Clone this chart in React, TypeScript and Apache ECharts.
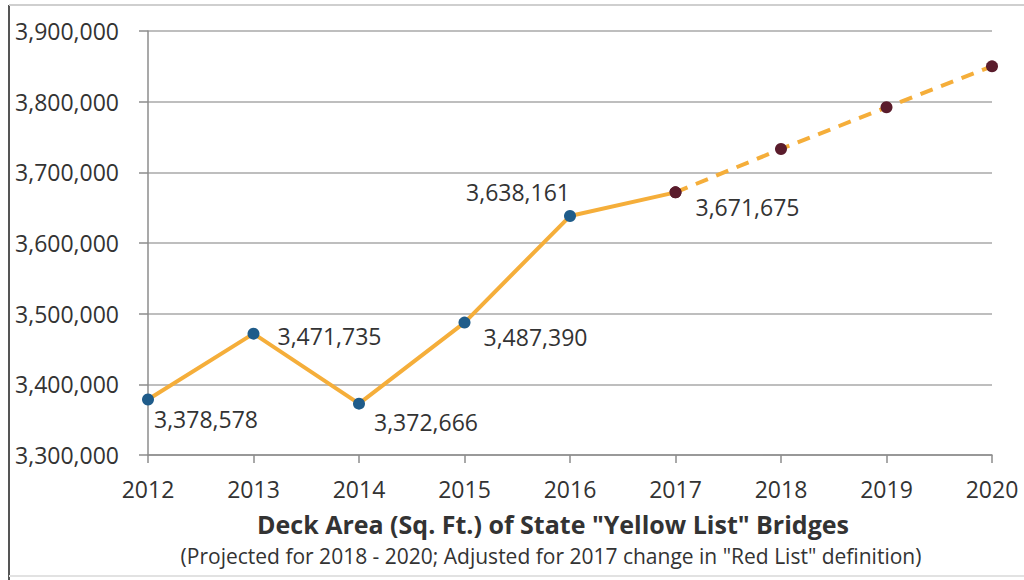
import React, { useEffect, useRef } from "react";
import * as echarts from "echarts";

const years = ["2012", "2013", "2014", "2015", "2016", "2017", "2018", "2019", "2020"];
const actualValues = [3378578, 3471735, 3372666, 3487390, 3638161, 3671675];
const projectedValues = [3671675, 3733000, 3792000, 3850000];
const labeledValues = [3378578, 3471735, 3372666, 3487390, 3638161, 3671675];
const titleText = 'Deck Area (Sq. Ft.) of State "Yellow List" Bridges';
const subtitleText = '(Projected for 2018 - 2020; Adjusted for 2017 change in "Red List" definition)';

const FONT = "'Open Sans', 'Noto Sans', sans-serif";
const TEXT = "#333333";
const ORANGE = "#F5AE3A";
const BLUE = "#1F5C8A";
const MAROON = "#5A1C2C";

// label placement per labeled point (style, not data)
const labelPlace: any[] = [
  { position: "right", offset: [0, 20] },
  { position: "right", offset: [18, 2] },
  { position: "right", offset: [9, 18] },
  { position: "right", offset: [13, 14] },
  { position: "left", offset: [6, -24] },
  { position: "right", offset: [14, 15] },
];

const fmt = (v: number) => v.toLocaleString("en-US");

export default function App() {
  const ref = useRef<HTMLDivElement>(null);
  useEffect(() => {
    if (!ref.current) return;
    const chart = echarts.init(ref.current, null, { renderer: "svg" });
    const nActual = actualValues.length;
    const solidData: any[] = years.map((_, i) => {
      if (i >= nActual) return "-";
      const isLast = i === nActual - 1;
      return {
        value: actualValues[i],
        itemStyle: { color: isLast ? MAROON : BLUE },
        label: {
          show: labeledValues[i] !== undefined,
          position: labelPlace[i].position,
          offset: labelPlace[i].offset,
          distance: 0,
          formatter: () => fmt(labeledValues[i]),
        },
      };
    });
    const startIdx = nActual - 1;
    const dashData: any[] = years.map((_, i) => {
      if (i < startIdx) return "-";
      return { value: projectedValues[i - startIdx], itemStyle: { color: MAROON } };
    });

    chart.setOption({
      animation: false,
      backgroundColor: "#fff",
      grid: { left: 148, right: 32, top: 31, bottom: 125 },
      xAxis: {
        type: "category",
        data: years,
        boundaryGap: false,
        axisLine: { show: true, lineStyle: { color: "#8c8c8c", width: 1.5 } },
        axisTick: { show: true, alignWithLabel: true, length: 8, lineStyle: { color: "#8c8c8c", width: 1.5 } },
        axisLabel: { color: TEXT, fontFamily: FONT, fontSize: 23, margin: 22 },
        splitLine: { show: false },
      },
      yAxis: {
        type: "value",
        min: 3300000,
        max: 3900000,
        interval: 100000,
        axisLine: { show: true, lineStyle: { color: "#8c8c8c", width: 1.5 } },
        axisTick: { show: true, length: 9, lineStyle: { color: "#8c8c8c", width: 1.5 } },
        axisLabel: {
          color: TEXT,
          fontFamily: FONT,
          fontSize: 23,
          margin: 29,
          formatter: (v: number) => fmt(v),
        },
        splitLine: { show: true, lineStyle: { color: "#a8a8a8", width: 1.5 } },
      },
      graphic: [
        { type: "line", shape: { x1: 9, y1: 5, x2: 9, y2: 580 }, style: { stroke: "#555", lineWidth: 2 } },
        { type: "line", shape: { x1: 9, y1: 5, x2: 1024, y2: 5 }, style: { stroke: "#cfcfcf", lineWidth: 2 } },
        { type: "line", shape: { x1: 9, y1: 576, x2: 1024, y2: 576 }, style: { stroke: "#e2e2e2", lineWidth: 2 } },
        {
          type: "text",
          x: 553,
          y: 524,
          style: {
            text: titleText,
            fill: TEXT,
            font: `bold 25px ${FONT}`,
            textAlign: "center",
            textVerticalAlign: "middle",
          },
        },
        {
          type: "text",
          x: 551,
          y: 556,
          style: {
            text: subtitleText,
            fill: TEXT,
            font: `21px ${FONT}`,
            textAlign: "center",
            textVerticalAlign: "middle",
          },
        },
      ],
      series: [
        {
          type: "line",
          data: solidData,
          symbol: "circle",
          symbolSize: 12,
          lineStyle: { color: ORANGE, width: 4 },
          label: { color: TEXT, fontFamily: FONT, fontSize: 23 },
          z: 3,
        },
        {
          type: "line",
          data: dashData,
          symbol: "circle",
          symbolSize: 12,
          lineStyle: { color: ORANGE, width: 4, type: [13, 9] },
          label: { show: false },
          z: 2,
        },
      ],
    });
    return () => chart.dispose();
  }, []);
  return (
    <div
      ref={ref}
      style={{ position: "absolute", left: 0, top: 0, width: 1024, height: 580 }}
    />
  );
}
